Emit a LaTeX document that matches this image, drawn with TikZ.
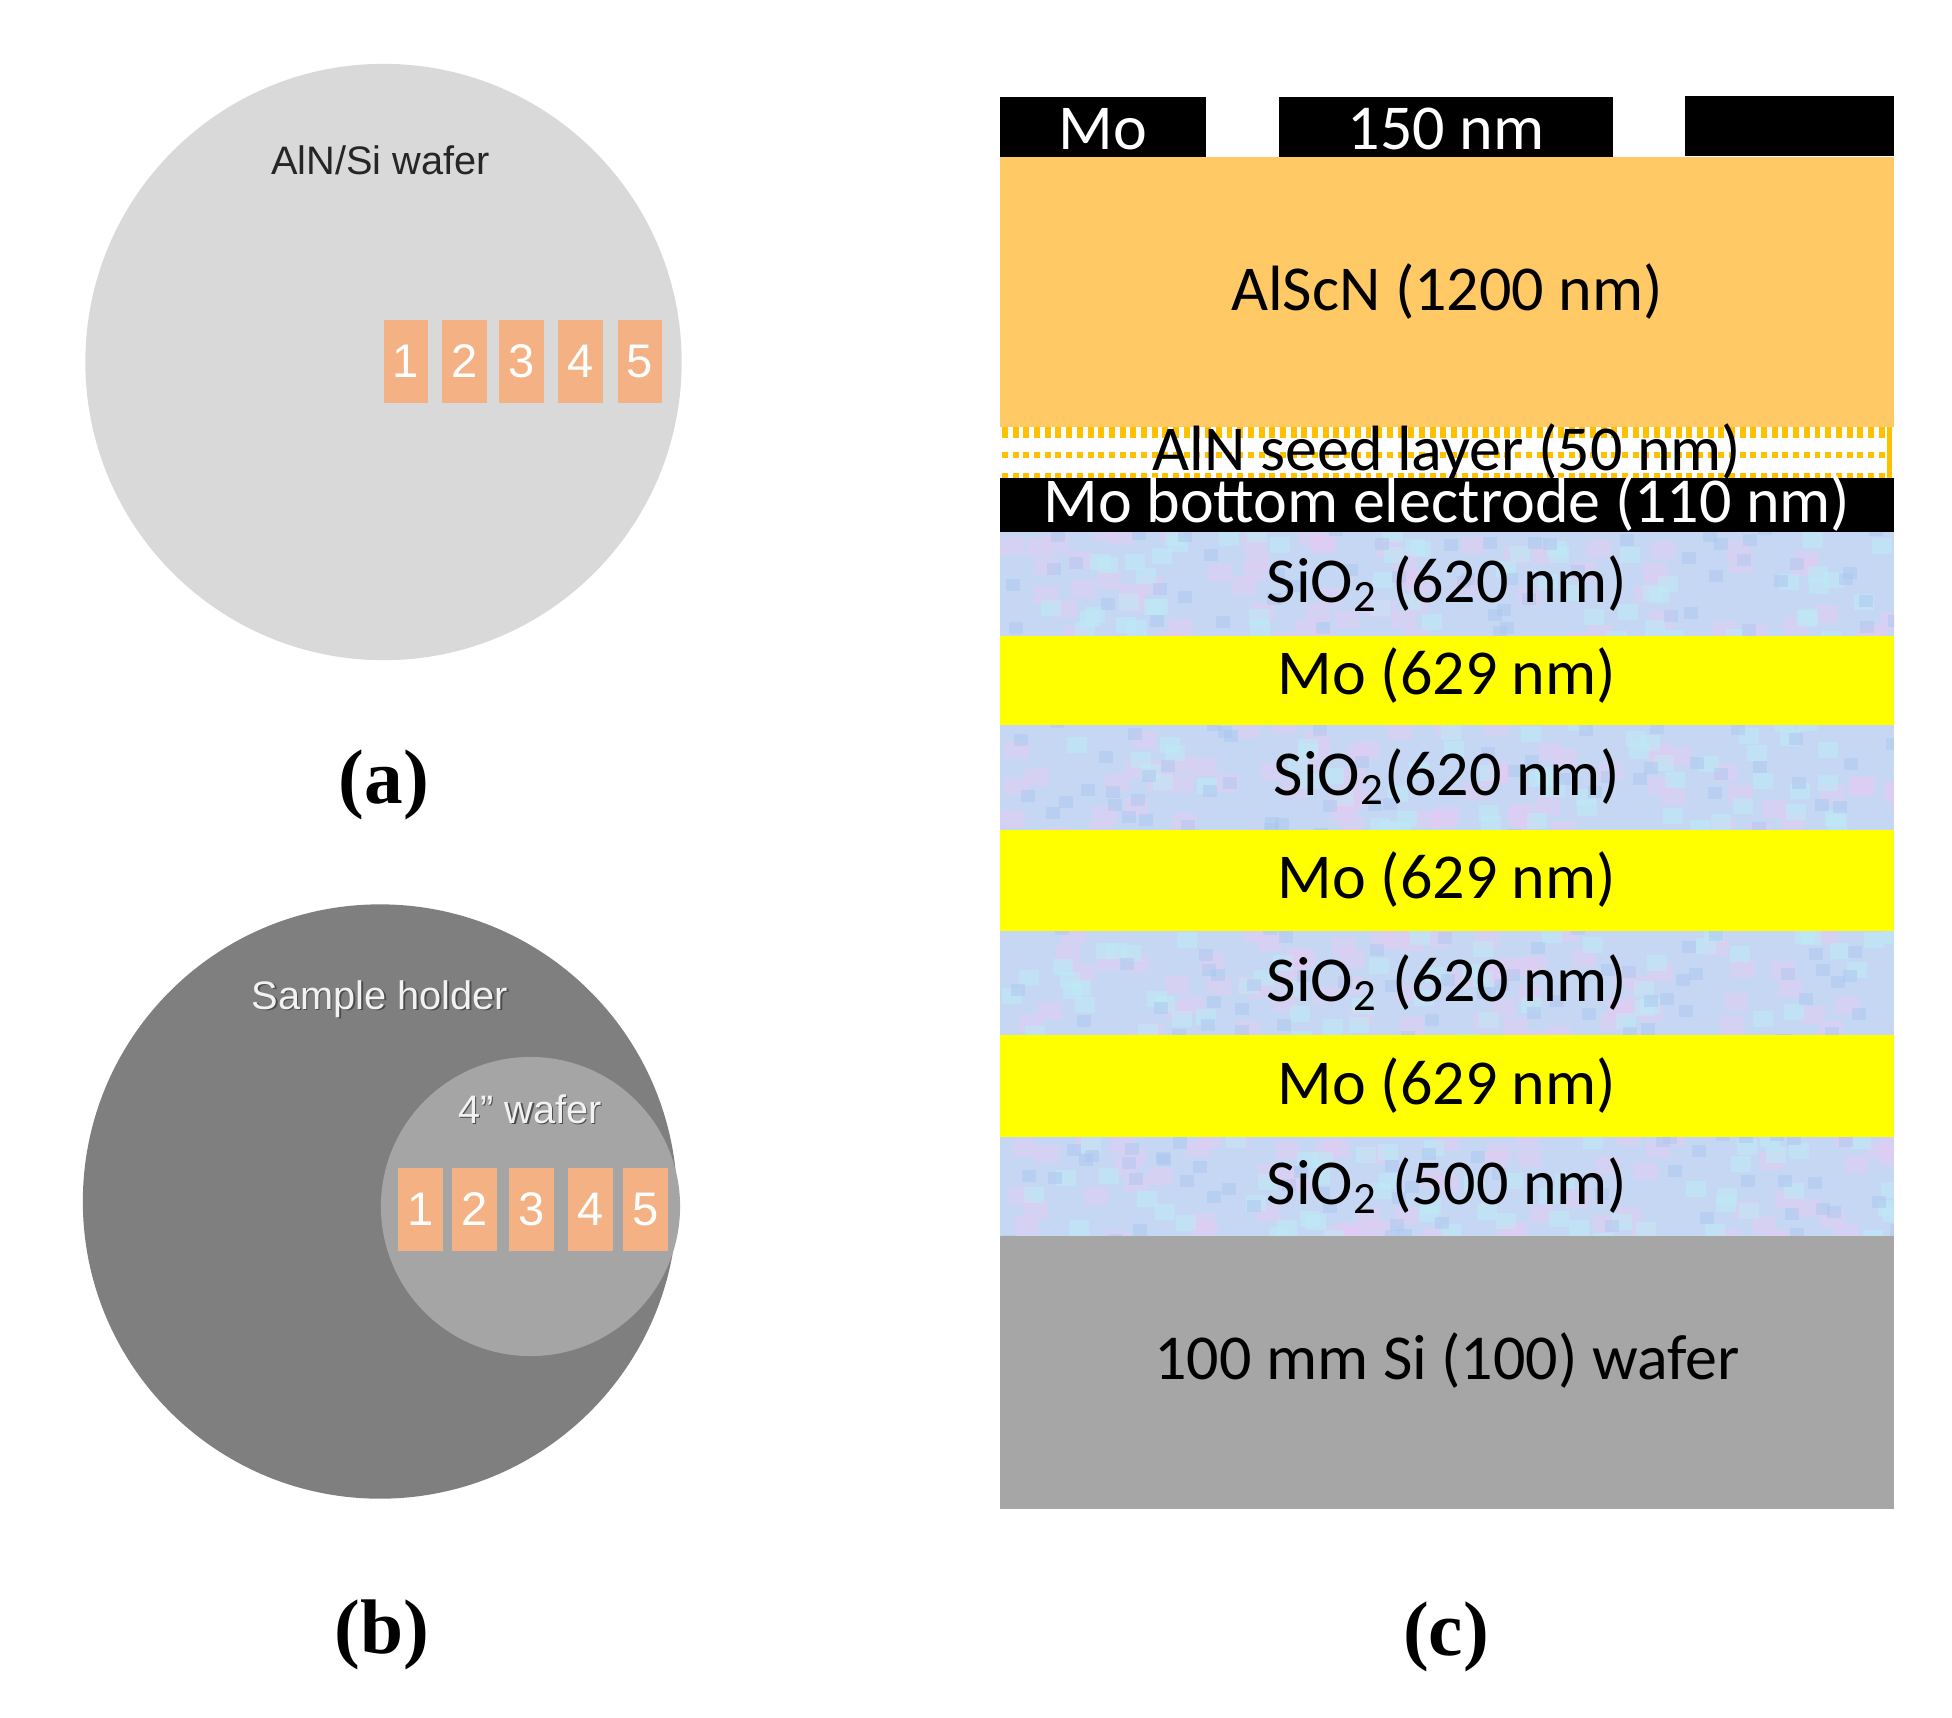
\documentclass[tikz,border=0pt]{standalone}
\usepackage{fontspec}
\setmainfont{Carlito}
\newfontfamily\arialfont{Liberation Sans}
\newfontfamily\capfont{Liberation Serif}

\definecolor{lightwafer}{HTML}{D9D9D9}
\definecolor{holdergray}{HTML}{7F7F7F}
\definecolor{innergray}{HTML}{A5A5A5}
\definecolor{chiporange}{HTML}{F4B183}
\definecolor{alscn}{HTML}{FFC966}
\definecolor{seedorange}{HTML}{FFC000}
\definecolor{moyellow}{HTML}{FFFF00}
\definecolor{siwafer}{HTML}{A6A6A6}
\definecolor{oxbase}{HTML}{C6D7F4}
\definecolor{oxpink}{HTML}{E4CCF2}
\definecolor{oxcyan}{HTML}{BDEBF5}
\definecolor{oxblue}{HTML}{A9C6EE}

\tikzset{
  wafer/.style     = {circle, inner sep=0pt},
  chip/.style      = {rectangle, fill=chiporange, inner sep=0pt,
                      minimum width=0.45cm, minimum height=0.83cm,
                      text=white, font=\arialfont\fontsize{13.4}{14}\selectfont},
  wlabel/.style    = {inner sep=0pt, font=\arialfont\fontsize{11.3}{13}\selectfont},
  layertext/.style = {inner sep=0pt, font=\fontsize{18.2}{20}\selectfont},
  panel/.style     = {inner sep=0pt, font=\capfont\bfseries\fontsize{22}{24}\selectfont},
  seedrow/.style   = {draw=seedorange, dash pattern=on 1.7pt off 1.34pt}
}

% mottled SiO2 band between two y values
\newcommand{\oxideband}[2]{%
  \begin{scope}
    \clip (1000,#1) rectangle (1894,#2);
    \fill[oxbase] (1000,#1) rectangle (1894,#2);
    \foreach \k in {1,...,70}
      \fill[oxpink, opacity=0.5] ({1000+894*rnd}, {#1-10+(#2-#1+10)*rnd}) rectangle ++(24,18);
    \foreach \k in {1,...,55}
      \fill[oxcyan, opacity=0.5] ({1000+894*rnd}, {#1-10+(#2-#1+10)*rnd}) rectangle ++(20,16);
    \foreach \k in {1,...,55}
      \fill[oxblue, opacity=0.45] ({1000+894*rnd}, {#1-10+(#2-#1+10)*rnd}) rectangle ++(14,12);
  \end{scope}}

\begin{document}
\begin{tikzpicture}[x=0.01cm, y=-0.01cm]
\pgfmathsetseed{7}
\useasboundingbox (0,0) rectangle (1952,1717);

% (a) wafer
\node[wafer, fill=lightwafer, minimum size=5.96cm] (wafA) at (383.5,362) {};
\node[wlabel, text=black!85] (wafAtxt) at (380.6,160) {AlN/Si wafer};
\foreach \n/\cx in {1/406, 2/464.5, 3/521.5, 4/580.5, 5/640}
  \node[chip, minimum width=0.44cm, minimum height=0.82cm] (a\n) at (\cx,361.5) {\n};
\node[panel] (capA) at (384,785) {(a)};

% (b) holder and wafer
\node[wafer, fill=holdergray, minimum size=5.94cm] (holder) at (380,1201.5) {};
\node[wafer, fill=innergray, minimum size=2.99cm] (wafB) at (530.5,1206.5) {};
\node[wlabel, text=black!70] (holderSh) at (381.5,1000.5) {Sample holder};
\node[wlabel, text=white!95!black] (holderTxt) at (380,999) {Sample holder};
\node[wlabel, text=black!70] (wafBSh) at (531.5,1110.5) {4” wafer};
\node[wlabel, text=white!95!black] (wafBTxt) at (530,1109) {4” wafer};
\foreach \n/\cx in {1/420.5, 2/474.5, 3/531.5, 4/590.5, 5/645.5}
  \node[chip] (b\n) at (\cx,1209) {\n};
\node[panel] (capB) at (382,1635) {(b)};

% (c) layer stack
\fill[black] (1000,97) rectangle (1206,157);
\fill[black] (1279,97) rectangle (1613,157);
\fill[black] (1685,96) rectangle (1894,156);
\node[layertext, text=white] (moTop) at (1103,129) {Mo};
\node[layertext, text=white] (moThk) at (1446,129) {150 nm};

\fill[alscn] (1000,157) rectangle (1894,427);
\node[layertext] (alscnTxt) at (1447,292) {AlScN (1200 nm)};

\fill[white] (1000,427) rectangle (1894,478);
\draw[seedrow, line width=3.1pt] (1002,432.5) -- (1886,432.5);
\draw[seedrow, line width=1.7pt] (1002,455) -- (1886,455);
\draw[seedrow, line width=1.4pt] (1002,475.5) -- (1886,475.5);
\draw[seedorange, line width=1.4pt] (1889.5,427) -- (1889.5,478);
\node[layertext] (seedTxt) at (1447,452) {AlN seed layer (50 nm)};

\fill[black] (1000,478) rectangle (1894,532);
\node[layertext, text=white] (moBot) at (1447,504) {Mo bottom electrode (110 nm)};

\oxideband{532}{636}
\node[layertext] (ox1) at (1447,584) {SiO\textsubscript{2} (620 nm)};
\fill[moyellow] (1000,636) rectangle (1894,725);
\node[layertext] (mo1) at (1447,676) {Mo (629 nm)};
\oxideband{725}{830}
\node[layertext] (ox2) at (1447,777) {SiO\textsubscript{2}(620 nm)};
\fill[moyellow] (1000,830) rectangle (1894,931);
\node[layertext] (mo2) at (1447,880) {Mo (629 nm)};
\oxideband{931}{1035}
\node[layertext] (ox3) at (1447,983) {SiO\textsubscript{2} (620 nm)};
\fill[moyellow] (1000,1035) rectangle (1894,1137);
\node[layertext] (mo3) at (1447,1086) {Mo (629 nm)};
\oxideband{1137}{1236}
\node[layertext] (ox4) at (1447,1186) {SiO\textsubscript{2} (500 nm)};

\fill[siwafer] (1000,1236) rectangle (1894,1509);
\node[layertext] (siTxt) at (1447,1360) {100 mm Si (100) wafer};

\node[panel] (capC) at (1446,1637) {(c)};
\end{tikzpicture}
\end{document}
